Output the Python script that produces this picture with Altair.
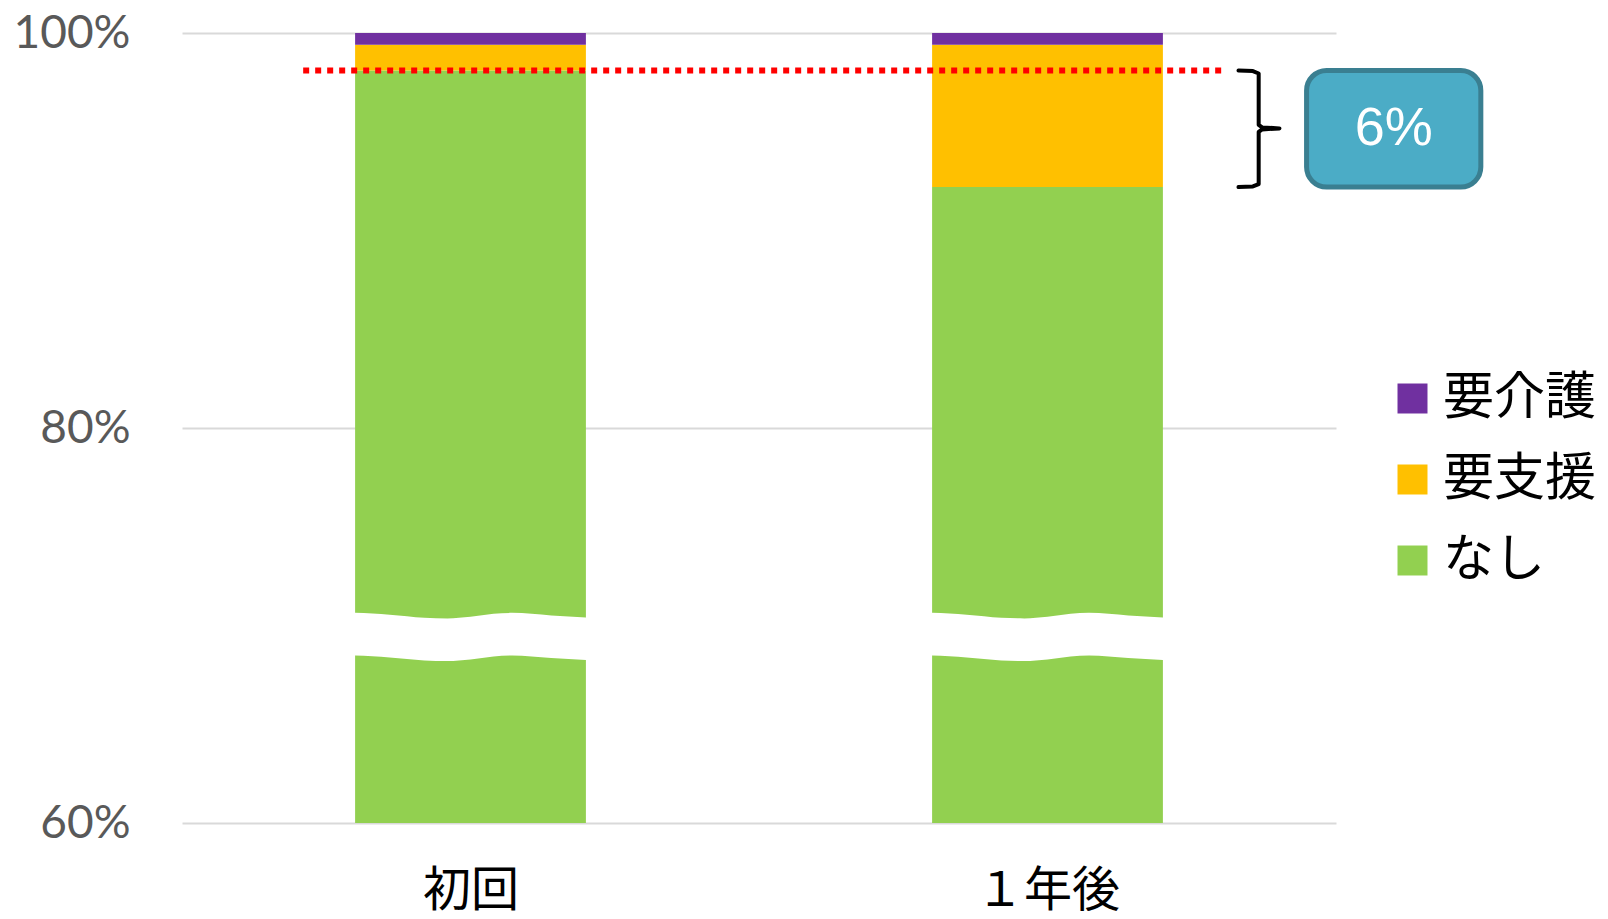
import json

import altair as alt
import pandas as pd

# ---- values -------------------------------------------------------------
categories = ["初回", "１年後"]
levels = ["なし", "要支援", "要介護"]          # stacked bottom -> top
none_pct = [98.1, 92.2]
support_pct = [1.3, 7.2]
care_pct = [0.6, 0.6]
level_colors = ["#92D050", "#FFC000", "#7030A0"]
y_ticks = [60, 80, 100]

# ---- layout constants (x is in category units: band i spans [i, i+1]) ----
BAR_HALF = 0.2
GUIDE_X = (0.21, 1.81)
BRACE_X = (1.831, 1.866, 1.902)
BOX_X = (1.949, 2.251)

# wavy axis-break band drawn across both bars
BREAK_TOP = 70.64
BREAK_GAP = 2.16
wave_frac = [-0.03, 0.0, 0.15, 0.3, 0.4, 0.5, 0.6, 0.68, 0.85, 1.0, 1.03]
wave_drop = [0.0, 0.0, 0.10, 0.25, 0.28, 0.20, 0.05, 0.0, 0.13, 0.23, 0.24]

# ---- tables -------------------------------------------------------------
series = {"なし": none_pct, "要支援": support_pct, "要介護": care_pct}
bar_rows = []
for i, cat in enumerate(categories):
    base = 0.0
    for lvl in levels:
        v = series[lvl][i]
        bar_rows.append({"cat": cat, "level": lvl,
                         "x0": i + 0.5 - BAR_HALF, "x1": i + 0.5 + BAR_HALF,
                         "y0": base, "y1": base + v})
        base += v
bars_df = pd.DataFrame(bar_rows)

wave_rows = []
for i, cat in enumerate(categories):
    for f, d in zip(wave_frac, wave_drop):
        wave_rows.append({"cat": cat,
                          "x": i + 0.5 - BAR_HALF + f * 2 * BAR_HALF,
                          "top": BREAK_TOP - d,
                          "bot": BREAK_TOP - BREAK_GAP - d})
wave_df = pd.DataFrame(wave_rows)

hi, lo = none_pct[0], none_pct[1]
mid = (hi + lo) / 2
guide_df = pd.DataFrame({"x": [GUIDE_X[0]], "x2": [GUIDE_X[1]], "y": [hi]})

tip, spine, point = BRACE_X
brace_pts = [
    (tip, hi), (spine - 0.010, hi - 0.03), (spine, hi - 0.15),
    (spine, mid + 0.20), (spine + 0.006, mid + 0.07), (point, mid + 0.02),
    (spine + 0.006, mid - 0.03), (spine, mid - 0.16),
    (spine, lo + 0.15), (spine - 0.010, lo + 0.03), (tip, lo),
]
brace_df = pd.DataFrame({"x": [p[0] for p in brace_pts],
                         "y": [p[1] for p in brace_pts],
                         "k": list(range(len(brace_pts)))})

box_df = pd.DataFrame({"x": [BOX_X[0]], "x2": [BOX_X[1]], "y": [hi], "y2": [lo],
                       "xc": [(BOX_X[0] + BOX_X[1]) / 2], "yc": [mid],
                       "label": [f"{round(hi - lo)}%"]})

# ---- scales & axes ------------------------------------------------------
cat_js = json.dumps(categories, ensure_ascii=False)
x_scale = alt.Scale(domain=[0, 2], nice=False, zero=False)
y_scale = alt.Scale(domain=[60, 100], nice=False, zero=False)

x_axis = alt.Axis(values=[0.5, 1.5], labelExpr=f"{cat_js}[floor(datum.value)]",
                  title=None, grid=False, domain=False, ticks=False,
                  labelFont="Noto Sans CJK JP", labelFontSize=48,
                  labelColor="#000000", labelPadding=44)
y_axis = alt.Axis(values=y_ticks, labelExpr="datum.value + '%'", title=None,
                  grid=True, gridColor="#D9D9D9", gridWidth=2,
                  domain=False, ticks=False,
                  labelFont="Lato", labelFontSize=46, labelColor="#595959",
                  labelPadding=52)

bars = alt.Chart(bars_df).mark_bar(clip=True).encode(
    x=alt.X("x0:Q", scale=x_scale, axis=x_axis),
    x2="x1",
    y=alt.Y("y0:Q", scale=y_scale, axis=y_axis),
    y2="y1",
    color=alt.Color("level:N",
                    scale=alt.Scale(domain=levels[::-1], range=level_colors[::-1]),
                    legend=alt.Legend(title=None, orient="none", legendX=1205,
                                      legendY=340, symbolType="square",
                                      symbolSize=900, symbolStrokeWidth=0,
                                      labelFont="Noto Sans CJK JP",
                                      labelFontSize=51, labelColor="#000000",
                                      labelOffset=5, rowPadding=29, padding=0)),
)

wave = alt.Chart(wave_df).mark_area(color="#FFFFFF", interpolate="monotone").encode(
    x=alt.X("x:Q", scale=x_scale),
    y=alt.Y("top:Q", scale=y_scale),
    y2="bot",
    detail="cat:N",
)

guide = alt.Chart(guide_df).mark_rule(color="#FF0000", strokeWidth=6,
                                      strokeDash=[6, 6], strokeCap="butt").encode(
    x=alt.X("x:Q", scale=x_scale), x2="x2", y=alt.Y("y:Q", scale=y_scale)
)

brace = alt.Chart(brace_df).mark_line(color="#000000", strokeWidth=4,
                                      strokeCap="round", strokeJoin="round").encode(
    x=alt.X("x:Q", scale=x_scale), y=alt.Y("y:Q", scale=y_scale), order="k:Q"
)

box = alt.Chart(box_df).mark_rect(fill="#4BACC6", stroke="#3A7F91", strokeWidth=5,
                                  cornerRadius=20).encode(
    x=alt.X("x:Q", scale=x_scale), x2="x2",
    y=alt.Y("y:Q", scale=y_scale), y2="y2",
)

box_text = alt.Chart(box_df).mark_text(color="#FFFFFF", font="Liberation Sans",
                                       fontSize=54, align="center",
                                       baseline="middle").encode(
    x=alt.X("xc:Q", scale=x_scale), y=alt.Y("yc:Q", scale=y_scale), text="label:N"
)

chart = alt.layer(bars, wave, guide, brace, box, box_text).properties(
    width=1154, height=790,
    autosize=alt.AutoSizeParams(type="none"),
    padding={"left": 182, "top": 33, "right": 272, "bottom": 96},
    background="#FFFFFF",
).configure_view(stroke=None)

chart.save("out.html", embed_options={"renderer": "svg", "actions": False})
